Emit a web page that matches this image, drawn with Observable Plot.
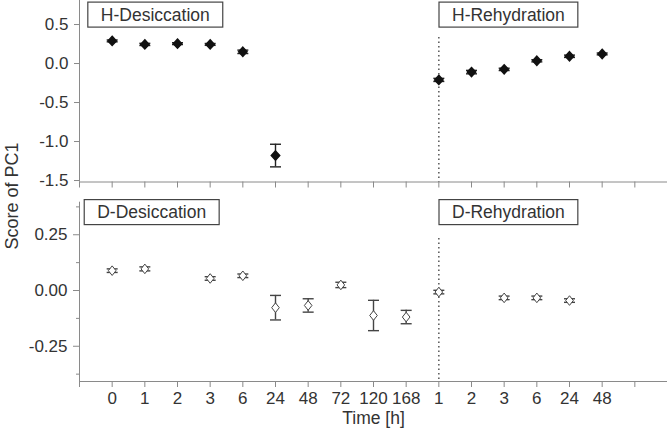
<!DOCTYPE html>
<html>
<head>
<meta charset="utf-8">
<script src="https://cdn.jsdelivr.net/npm/d3@7"></script>
<script src="https://cdn.jsdelivr.net/npm/@observablehq/plot@0.6"></script>
<style>
  body { margin: 0; background: #fff; }
  #wrap { position: relative; width: 667px; height: 433px; font-family: "Liberation Sans", Arial, sans-serif; }
  #wrap svg { position: absolute; left: 0; overflow: visible; }
  #ylab { position: absolute; left: 12px; top: 196px; transform: translate(-50%, -50%) rotate(-90deg); font-size: 18px; color: #333; white-space: nowrap; }
</style>
</head>
<body>
<div id="wrap"><div id="ylab">Score of PC1</div></div>
<script>
// categories (time points, desiccation then rehydration)
const timeLabels = ["0","1","2","3","6","24","48","72","120","168","1","2","3","6","24","48"];
// H series (PC1 score, mean and error)
const hMean = [0.29, 0.245, 0.255, 0.245, 0.15, -1.18, null, null, null, null, -0.21, -0.11, -0.075, 0.035, 0.093, 0.123];
const hErr  = [0.012, 0.014, 0.012, 0.012, 0.022, 0.145, null, null, null, null, 0.02, 0.022, 0.015, 0.014, 0.015, 0.012];
// D series
const dMean = [0.089, 0.097, null, 0.054, 0.066, -0.077, -0.067, 0.025, -0.112, -0.119, -0.007, null, -0.033, -0.033, -0.045, null];
const dErr  = [0.008, 0.009, null, 0.008, 0.008, 0.055, 0.03, 0.012, 0.068, 0.03, 0.008, null, 0.008, 0.008, 0.008, null];
// panel annotations
const hBoxes = [{x: 1.32, label: "H-Desiccation"}, {x: 12.13, label: "H-Rehydration"}];
const dBoxes = [{x: 1.21, label: "D-Desiccation"}, {x: 12.13, label: "D-Rehydration"}];
const rehydStart = 10;

const rows = (m, e) => m.map((v, i) => ({i, y: v, e: e[i]})).filter(d => d.y != null);
const hRows = rows(hMean, hErr);
const dRows = rows(dMean, dErr);

const capSym = {draw(ctx) { ctx.moveTo(-5.5, 0); ctx.lineTo(5.5, 0); }};
const diamondFilled = {draw(ctx) { ctx.moveTo(0, -4.6); ctx.lineTo(4.2, 0); ctx.lineTo(0, 4.6); ctx.lineTo(-4.2, 0); ctx.closePath(); }};
const diamondOpen = {draw(ctx) { ctx.moveTo(0, -4.8); ctx.lineTo(3.8, 0); ctx.lineTo(0, 4.8); ctx.lineTo(-3.8, 0); ctx.closePath(); }};

const axisGray = "#8a8a8a";
const allTicks = d3.range(-1, 18);
const font = "Liberation Sans, Arial, sans-serif";

function errMarks(data, color) {
  return [
    Plot.ruleX(data, {x: "i", y1: d => d.y - d.e, y2: d => d.y + d.e, stroke: color, strokeWidth: 1.4}),
    Plot.dot(data, {x: "i", y: d => d.y - d.e, symbol: capSym, stroke: color, strokeWidth: 1.4, r: 3}),
    Plot.dot(data, {x: "i", y: d => d.y + d.e, symbol: capSym, stroke: color, strokeWidth: 1.4, r: 3})
  ];
}

const topPlot = Plot.plot({
  width: 667, height: 192,
  marginLeft: 79, marginRight: 0, marginTop: 0, marginBottom: 10.5,
  style: {fontFamily: font, color: "#333", background: "transparent"},
  x: {domain: [-1, 17], axis: null},
  y: {domain: [-1.519, 0.808], axis: null},
  marks: [
    Plot.ruleX([-1], {stroke: axisGray}),
    Plot.ruleY([-1.519], {stroke: axisGray}),
    Plot.axisX({ticks: allTicks, tickSize: 6, tickFormat: () => "", stroke: axisGray, label: null}),
    Plot.axisY({ticks: [-1.5, -1, -0.5, 0, 0.5], tickSize: 5, tickPadding: 6, fontSize: 17, tickFormat: d => d.toFixed(1), stroke: axisGray, label: null}),
    Plot.ruleX([rehydStart], {y1: 0.333, y2: -1.519, stroke: "#555", strokeWidth: 1.5, strokeDasharray: "1.5,3"}),
    ...errMarks(hRows, "#222"),
    Plot.dot(hRows, {x: "i", y: "y", symbol: diamondFilled, fill: "#111", stroke: "#111", r: 4}),
    Plot.text(hBoxes, {x: "x", text: "label", frameAnchor: "top", lineAnchor: "middle", dy: 14.5, fontSize: 17.5, fill: "#333", className: "boxlab"})
  ]
});
topPlot.style.top = "0px";

const bottomPlot = Plot.plot({
  width: 667, height: 243,
  marginLeft: 79, marginRight: 0, marginTop: 11.7, marginBottom: 52,
  style: {fontFamily: font, color: "#333", background: "transparent"},
  x: {domain: [-1, 17], axis: null},
  y: {domain: [-0.408, 0.396], axis: null},
  marks: [
    Plot.ruleX([-1], {stroke: axisGray}),
    Plot.ruleY([-0.408], {stroke: axisGray}),
    Plot.axisX({ticks: allTicks, tickSize: 6, tickPadding: 4, fontSize: 17, label: null,
      tickFormat: i => (i >= 0 && i < timeLabels.length) ? timeLabels[i] : "", stroke: axisGray}),
    Plot.axisY({ticks: [-0.25, 0, 0.25], tickSize: 6, tickPadding: 6, fontSize: 17, tickFormat: d => d.toFixed(2), stroke: axisGray, label: null}),
    Plot.axisY({ticks: [-0.375, -0.125, 0.125, 0.375], tickSize: 3, tickFormat: () => "", stroke: axisGray, label: null}),
    Plot.ruleX([rehydStart], {y1: 0.233, y2: -0.408, stroke: "#555", strokeWidth: 1.5, strokeDasharray: "1.5,3"}),
    ...errMarks(dRows, "#444"),
    Plot.dot(dRows, {x: "i", y: "y", symbol: diamondOpen, fill: "white", stroke: "#444", strokeWidth: 1, r: 4}),
    Plot.text(dBoxes, {x: "x", text: "label", frameAnchor: "top", lineAnchor: "middle", dy: 10.3, fontSize: 17.5, fill: "#333", className: "boxlab"}),
    Plot.text(["Time [h]"], {x: 8, frameAnchor: "bottom", lineAnchor: "middle", dy: 37, fontSize: 17.5, fill: "#333"})
  ]
});
bottomPlot.style.top = "190px";

const wrap = document.getElementById("wrap");
wrap.appendChild(topPlot);
wrap.appendChild(bottomPlot);

// draw frames around panel labels
for (const svg of [topPlot, bottomPlot]) {
  svg.querySelectorAll("g.boxlab text").forEach(t => {
    const b = t.getBBox();
    const padX = 13, h = 25;
    const cy = b.y + b.height / 2;
    const rect = document.createElementNS("http://www.w3.org/2000/svg", "rect");
    rect.setAttribute("x", b.x - padX);
    rect.setAttribute("y", cy - h / 2);
    rect.setAttribute("width", b.width + 2 * padX);
    rect.setAttribute("height", h);
    rect.setAttribute("fill", "white");
    rect.setAttribute("stroke", "#444");
    rect.setAttribute("stroke-width", "1.2");
    const tr = t.getAttribute("transform");
    if (tr) rect.setAttribute("transform", tr);
    t.parentNode.insertBefore(rect, t);
  });
}
</script>
</body>
</html>
